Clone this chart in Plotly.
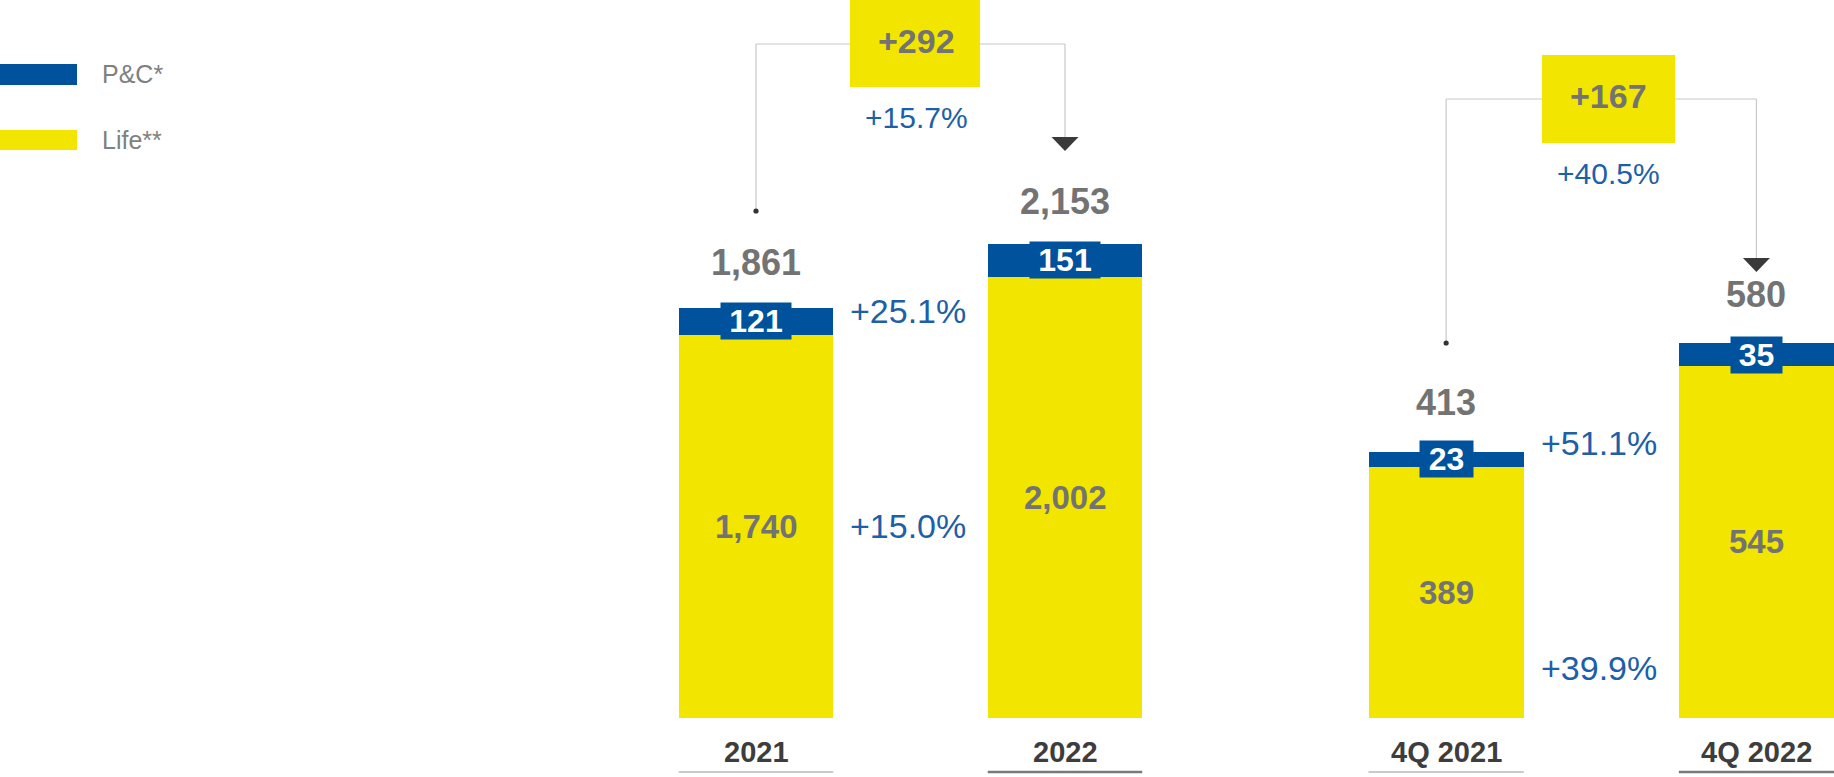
import plotly.graph_objects as go

# ---------------- data ----------------
annual_cats = ["2021", "2022"]
annual_life = [1740, 2002]
annual_pc = [121, 151]
annual_total = [1861, 2153]

quarter_cats = ["4Q 2021", "4Q 2022"]
quarter_life = [389, 545]
quarter_pc = [23, 35]
quarter_total = [413, 580]

annual_delta = "+292"
annual_delta_pct = "+15.7%"
annual_pc_pct = "+25.1%"
annual_life_pct = "+15.0%"

quarter_delta = "+167"
quarter_delta_pct = "+40.5%"
quarter_pc_pct = "+51.1%"
quarter_life_pct = "+39.9%"

series_names = ["P&C*", "Life**"]

# ---------------- style ----------------
W, H = 1834, 777
PLOT_BOTTOM = 718  # pixel row of bar base
BLUE = "#00529c"
YELLOW = "#f2e500"
GREY = "#737373"
DARK = "#3d3d3d"
PCT_BLUE = "#1d5fa8"
FONT = "Liberation Sans, Arial, sans-serif"

X1_DOM = [601.5 / W, 1219.5 / W]
X1_RANGE = [-0.5, 1.5]
X2_DOM = [1291 / W, 1.0]
X2_RANGE = [-0.5, 1.25]


def yp(px):
    """pixel row -> paper fraction of plot area"""
    return (PLOT_BOTTOM - px) / PLOT_BOTTOM


def to_paper_x(v, dom, rng):
    return dom[0] + (v - rng[0]) / (rng[1] - rng[0]) * (dom[1] - dom[0])


fig = go.Figure()

for cats, life, pc, xa, ya in [
    (annual_cats, annual_life, annual_pc, "x", "y"),
    (quarter_cats, quarter_life, quarter_pc, "x2", "y2"),
]:
    fig.add_trace(go.Bar(x=cats, y=life, name=series_names[1], marker=dict(color=YELLOW, line=dict(width=0)),
                         width=0.5, xaxis=xa, yaxis=ya, showlegend=False, hoverinfo="skip"))
    fig.add_trace(go.Bar(x=cats, y=pc, name=series_names[0], marker=dict(color=BLUE, line=dict(width=0)),
                         width=0.5, xaxis=xa, yaxis=ya, showlegend=False, hoverinfo="skip"))

annotations = []
shapes = []

groups = [
    dict(cats=annual_cats, life=annual_life, pc=annual_pc, total=annual_total, xa="x", ya="y",
         dom=X1_DOM, rng=X1_RANGE,
         unit=309.0, box_w=[70, 70], delta=annual_delta, dpct=annual_delta_pct, pcpct=annual_pc_pct,
         lifepct=annual_life_pct, pc_shift=10, life_pct_y=annual_life[0] / 2, life_pct_shift=0,
         top_line=44, dot=211, arrow_top=137, box=(0.304, 0.725, -5, 87), box_text_y=41, dpct_y=118,
         text_x=0.521, tot_shift=[46, 42]),
    dict(cats=quarter_cats, life=quarter_life, pc=quarter_pc, total=quarter_total, xa="x2", ya="y2",
         dom=X2_DOM, rng=X2_RANGE,
         unit=310.3, box_w=[53, 51], delta=quarter_delta, dpct=quarter_delta_pct, pcpct=quarter_pc_pct,
         lifepct=quarter_life_pct, pc_shift=16, life_pct_y=0, life_pct_shift=50,
         top_line=99, dot=343, arrow_top=258, box=(0.309, 0.738, 55, 143), box_text_y=96, dpct_y=173,
         text_x=0.522, tot_shift=[49, 49]),
]

for g in groups:
    xref, yref = g["xa"], g["ya"]
    for i, c in enumerate(g["cats"]):
        # total above bar
        annotations.append(dict(x=i, y=g["total"][i], xref=xref, yref=yref, text=f"<b>{g['total'][i]:,}</b>",
                                showarrow=False, yshift=g["tot_shift"][i], yanchor="middle",
                                font=dict(family=FONT, size=36, color=GREY)))
        # life value in segment
        annotations.append(dict(x=i, y=g["life"][i] / 2, xref=xref, yref=yref, text=f"<b>{g['life'][i]:,}</b>",
                                showarrow=False, yanchor="middle",
                                font=dict(family=FONT, size=33, color=GREY)))
        # P&C label box
        annotations.append(dict(x=i, y=g["life"][i] + g["pc"][i] / 2, xref=xref, yref=yref,
                                text=f"<b>{g['pc'][i]:,}</b>", showarrow=False, yanchor="middle",
                                bgcolor=BLUE, width=g["box_w"][i], height=36, borderpad=0,
                                font=dict(family=FONT, size=32, color="white")))
        # category label
        annotations.append(dict(x=i, y=0, xref=xref, yref="paper", text=f"<b>{c}</b>", showarrow=False,
                                yanchor="middle", yshift=-34, font=dict(family=FONT, size=29, color=DARK)))
        # underline (paper coords so it is not clipped to the plot area)
        ul_col = "#b8b8b8" if i == 0 else "#7a7a7a"
        ul_w = 1.5 if i == 0 else 2.5
        shapes.append(dict(type="line", xref="paper", yref="paper",
                           x0=to_paper_x(i - 0.25, g["dom"], g["rng"]),
                           x1=min(1.0, to_paper_x(i + 0.25, g["dom"], g["rng"])),
                           y0=yp(772), y1=yp(772), line=dict(color=ul_col, width=ul_w)))

    # growth percentages beside the first bar
    annotations.append(dict(x=0.25, y=g["life"][0] + g["pc"][0] / 2, xref=xref, yref=yref, text=g["pcpct"],
                            showarrow=False, xanchor="left", xshift=15, yanchor="middle", yshift=g["pc_shift"],
                            font=dict(family=FONT, size=34, color=PCT_BLUE)))
    annotations.append(dict(x=0.25, y=g["life_pct_y"], xref=xref, yref=yref, text=g["lifepct"],
                            showarrow=False, xanchor="left", xshift=15, yanchor="middle",
                            yshift=g["life_pct_shift"], font=dict(family=FONT, size=34, color=PCT_BLUE)))

    # bracket connector
    line_col = "#c8c8c8"
    shapes.append(dict(type="line", xref=xref, yref="paper", x0=0, x1=0, y0=yp(g["dot"]), y1=yp(g["top_line"]),
                       line=dict(color=line_col, width=1.2)))
    shapes.append(dict(type="line", xref=xref, yref="paper", x0=0, x1=1, y0=yp(g["top_line"]),
                       y1=yp(g["top_line"]), line=dict(color=line_col, width=1.2)))
    shapes.append(dict(type="line", xref=xref, yref="paper", x0=1, x1=1, y0=yp(g["top_line"]),
                       y1=yp(g["arrow_top"]), line=dict(color=line_col, width=1.2)))
    hw = 13.5 / g["unit"]
    shapes.append(dict(type="path", xref=xref, yref="paper",
                       path=f"M {1 - hw},{yp(g['arrow_top'])} L {1 + hw},{yp(g['arrow_top'])} "
                            f"L 1,{yp(g['arrow_top'] + 14)} Z",
                       fillcolor="#3a3a3a", line=dict(width=0)))
    dr = 2.6 / g["unit"]
    shapes.append(dict(type="circle", xref=xref, yref="paper", x0=-dr, x1=dr,
                       y0=yp(g["dot"] + 2.6), y1=yp(g["dot"] - 2.6), fillcolor="#333333", line=dict(width=0)))
    bx0, bx1, by0, by1 = g["box"]
    shapes.append(dict(type="rect", xref=xref, yref="paper", x0=bx0, x1=bx1, y0=yp(by1), y1=yp(by0),
                       fillcolor=YELLOW, line=dict(width=0)))
    annotations.append(dict(x=g["text_x"], y=yp(g["box_text_y"]), xref=xref, yref="paper",
                            text=f"<b>{g['delta']}</b>", showarrow=False, yanchor="middle",
                            font=dict(family=FONT, size=34, color=GREY)))
    annotations.append(dict(x=g["text_x"], y=yp(g["dpct_y"]), xref=xref, yref="paper",
                            text=g["dpct"], showarrow=False, yanchor="middle",
                            font=dict(family=FONT, size=30, color=PCT_BLUE)))

# custom legend
for name, col, (r0, r1) in [(series_names[0], BLUE, (64, 85)), (series_names[1], YELLOW, (130, 150))]:
    shapes.append(dict(type="rect", xref="paper", yref="paper", x0=0, x1=77 / W, y0=yp(r1), y1=yp(r0),
                       fillcolor=col, line=dict(width=0)))
    annotations.append(dict(x=100 / W, y=yp((r0 + r1) / 2), xref="paper", yref="paper", text=name,
                            showarrow=False, xanchor="left", yanchor="middle",
                            font=dict(family=FONT, size=25, color="#808080")))

fig.update_layout(
    width=W, height=H,
    margin=dict(l=0, r=0, t=0, b=H - PLOT_BOTTOM),
    barmode="stack",
    paper_bgcolor="white", plot_bgcolor="white",
    showlegend=False,
    hovermode=False,
    xaxis=dict(domain=X1_DOM, range=X1_RANGE, type="category", visible=False, fixedrange=True),
    yaxis=dict(range=[0, PLOT_BOTTOM / 0.2203], visible=False, fixedrange=True),
    xaxis2=dict(domain=X2_DOM, range=X2_RANGE, type="category", visible=False, anchor="y2", fixedrange=True),
    yaxis2=dict(range=[0, PLOT_BOTTOM / 0.646], visible=False, anchor="x2", fixedrange=True),
    annotations=annotations,
    shapes=shapes,
)

fig.write_html("out.html", config={"displayModeBar": False},
               post_script="document.body.style.margin='0px';document.body.style.overflow='hidden';")
